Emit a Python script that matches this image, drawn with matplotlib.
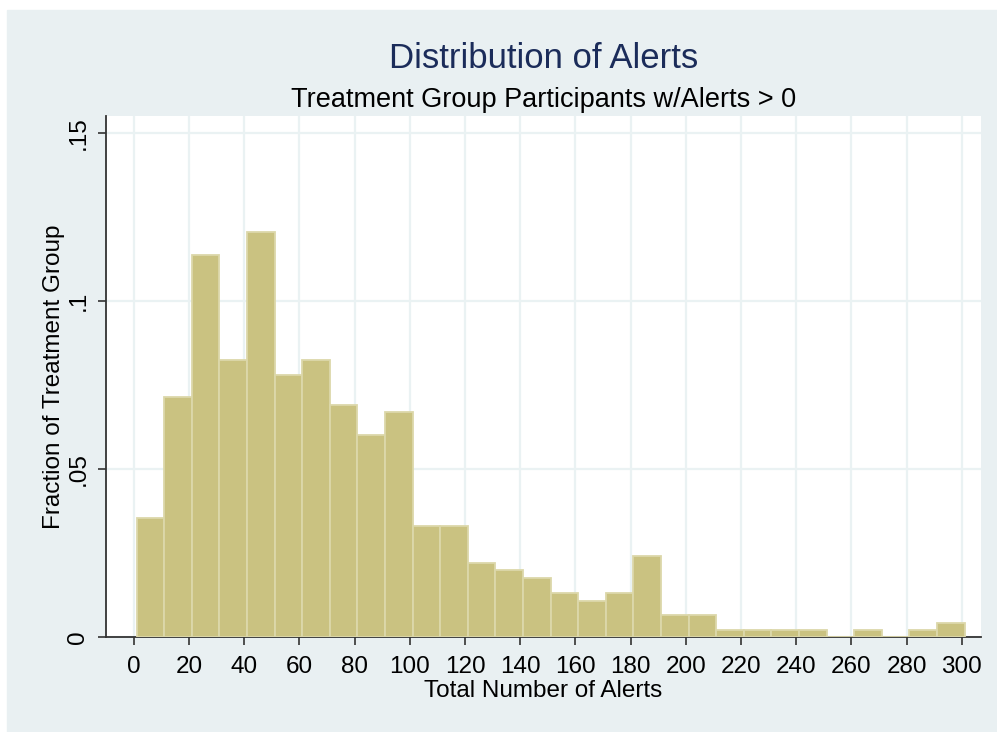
import numpy as np
import matplotlib
matplotlib.use('Agg')
import matplotlib.pyplot as plt

plt.rcParams['font.family'] = ['Liberation Sans', 'DejaVu Sans']

# histogram bins: start at 1, width 10, 30 bins
bin_start = 1
bin_width = 10
fractions = [0.0354, 0.0713, 0.1137, 0.0824, 0.1204, 0.0780, 0.0824, 0.0690,
             0.0601, 0.0668, 0.0331, 0.0331, 0.0219, 0.0198, 0.0176, 0.0131,
             0.0108, 0.0131, 0.0242, 0.0064, 0.0064, 0.0020, 0.0020, 0.0020,
             0.0020, 0.0, 0.0020, 0.0, 0.0020, 0.0043]
xticks = list(range(0, 301, 20))
yticks = [0, 0.05, 0.1, 0.15]
ytick_labels = ['0', '.05', '.1', '.15']

left_edges = bin_start + bin_width * np.arange(len(fractions))

bg = '#e9f0f2'
fig = plt.figure(figsize=(9.97, 7.32), dpi=100, facecolor='white')
# light panel behind everything (small white strip top/left like the original)
fig.patches.append(plt.Rectangle((7 / 997, 0), 1, 1 - 10 / 732,
                                 transform=fig.transFigure, color=bg, zorder=-1))

ax = fig.add_axes([0.1063, 0.1298, 0.8776, 0.7117])
ax.set_facecolor('white')
ax.bar(left_edges, fractions, width=bin_width, align='edge',
       color='#cac281', edgecolor='#dcd8aa', linewidth=1.3, zorder=3)

ax.set_xlim(-10.1, 306.9)
ax.set_ylim(0, 0.155)
ax.set_xticks(xticks)
ax.set_yticks(yticks)
ax.set_yticklabels(ytick_labels, rotation=90, va='center')
ax.grid(True, color='#eaf2f3', linewidth=1.6, zorder=0)
ax.set_axisbelow(True)

for s in ['top', 'right']:
    ax.spines[s].set_visible(False)
for s in ['left', 'bottom']:
    ax.spines[s].set_color('#333333')
    ax.spines[s].set_linewidth(1.3)
ax.tick_params(axis='both', direction='out', length=6, width=1.2,
               color='#333333', labelsize=17.5, pad=6)
ax.tick_params(axis='x', pad=8)

ax.set_xlabel('Total Number of Alerts', fontsize=17.5, labelpad=1)
ax.set_ylabel('Fraction of Treatment Group', fontsize=17.5, labelpad=2)

ax.text(0.5, 1.0916, 'Distribution of Alerts', transform=ax.transAxes,
        ha='center', va='baseline', fontsize=25, color='#1b2c5a')
ax.text(0.5, 1.0179, 'Treatment Group Participants w/Alerts > 0', transform=ax.transAxes,
        ha='center', va='baseline', fontsize=19.5, color='black')

fig.savefig('out.png', dpi=100, facecolor=fig.get_facecolor())
